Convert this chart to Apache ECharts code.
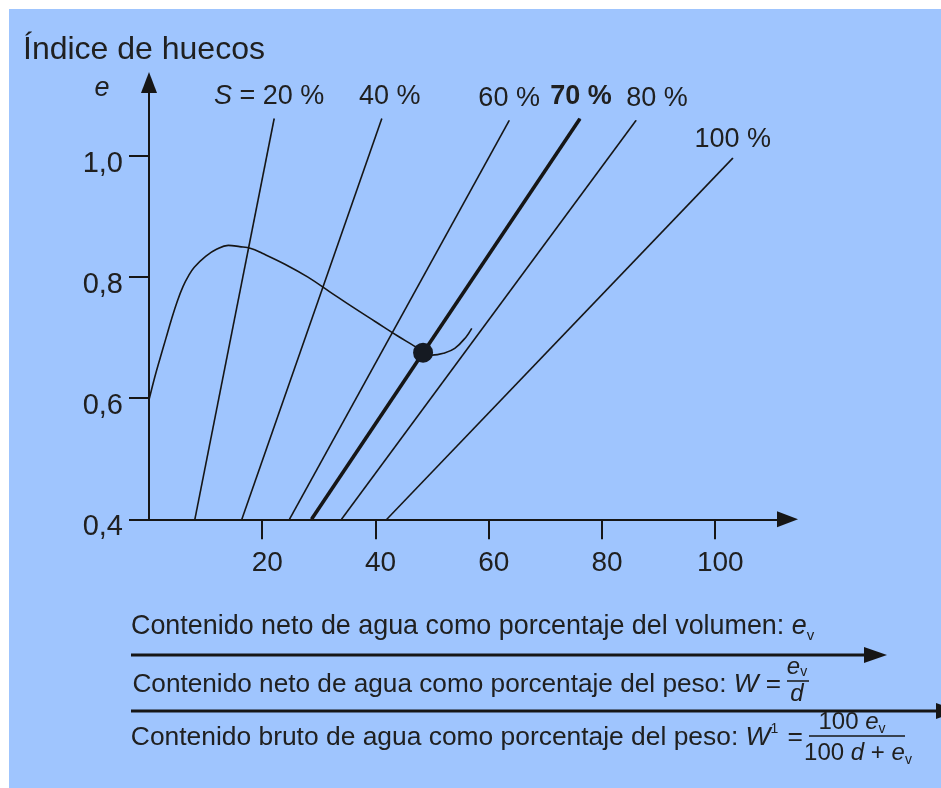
<!DOCTYPE html>
<html>
<head>
<meta charset="utf-8">
<title>Índice de huecos</title>
<script src="https://cdn.jsdelivr.net/npm/echarts@6/dist/echarts.min.js"></script>
<style>html,body{margin:0;padding:0;background:#fff;}</style>
</head>
<body>
<div id="main" style="width:941px;height:788px;"></div>
<script>
var chart = echarts.init(document.getElementById('main'));

// saturation lines S (%): from e = 0.4 up to the top end
var satNames = ['20', '40', '60', '70', '80', '100'];
var satStartW = [8.1, 16.4, 24.8, 28.7, 34.0, 42.0];
var satEndW = [22.1, 41.1, 63.6, 76.1, 86.0, 103.1];
var satEndE = [1.061, 1.061, 1.058, 1.061, 1.058, 0.996];
var satStartE = 0.4;

// curve of the void ratio
var curveW = [0, 1, 2, 3, 4, 5, 6, 7, 8, 10, 12, 14, 16, 18, 20, 24, 28, 32, 36, 40, 44, 47, 48.4, 50, 52, 54, 56, 57];
var curveE = [0.597, 0.634, 0.667, 0.699, 0.731, 0.760, 0.784, 0.802, 0.816, 0.834, 0.846, 0.852, 0.850, 0.847, 0.839, 0.821, 0.800, 0.775, 0.750, 0.726, 0.702, 0.685, 0.675, 0.671, 0.674, 0.682, 0.701, 0.715];

// marked point on the 70 % line
var pointW = [48.4];
var pointE = [0.675];

var xTicks = [20, 40, 60, 80, 100];
var yTicks = [0.4, 0.6, 0.8, 1.0];

var FONT = "'Liberation Sans', Arial, sans-serif";
var INK = '#202020';
var LINE = '#161616';

// label tweaks for the S labels (pixels)
var labelDx = [-5, 8, 0, 1, 21, 0];
var labelDist = [8, 8, 8, 8, 8, 5];

var series = [];
satNames.forEach(function (s, i) {
    var txt;
    if (i === 0) txt = '{it|S} = ' + s + ' %';
    else if (s === '70') txt = '{b|' + s + ' %}';
    else txt = s + ' %';
    series.push({
        type: 'line',
        symbol: 'circle',
        symbolSize: 1,
        showSymbol: true,
        itemStyle: { color: LINE },
        lineStyle: { color: LINE, width: s === '70' ? 3.6 : 1.6 },
        data: [
            [satStartW[i], satStartE],
            {
                value: [satEndW[i], satEndE[i]],
                label: {
                    show: true,
                    position: 'top',
                    distance: labelDist[i],
                    offset: [labelDx[i], 0],
                    formatter: txt,
                    color: INK,
                    fontFamily: FONT,
                    fontSize: 27,
                    rich: {
                        it: { fontStyle: 'italic', fontSize: 27, fontFamily: FONT, color: INK },
                        b: { fontWeight: 'bold', fontSize: 27, fontFamily: FONT, color: INK }
                    }
                }
            }
        ],
        z: s === '70' ? 4 : 3
    });
});

series.push({
    type: 'line',
    smooth: 0.4,
    symbol: 'none',
    lineStyle: { color: LINE, width: 1.6 },
    data: curveW.map(function (w, i) { return [w, curveE[i]]; }),
    z: 3
});

series.push({
    type: 'scatter',
    symbolSize: 20,
    itemStyle: { color: '#151a22', opacity: 1 },
    data: pointW.map(function (w, i) { return [w, pointE[i]]; }),
    z: 5
});

function richFor(size) {
    return {
        n: { fontSize: size, fontFamily: FONT, fill: INK, lineHeight: 32 },
        i: { fontSize: size, fontFamily: FONT, fill: INK, fontStyle: 'italic' },
        s: { fontSize: 15, fontFamily: FONT, fill: INK, verticalAlign: 'bottom' },
        p: { fontSize: 14, fontFamily: FONT, fill: INK, verticalAlign: 'top', padding: [0, 2, 0, 0] },
        fn: { fontSize: 24, fontFamily: FONT, fill: INK, lineHeight: 28 },
        fi: { fontSize: 24, fontFamily: FONT, fill: INK, fontStyle: 'italic' },
        fs: { fontSize: 14, fontFamily: FONT, fill: INK, verticalAlign: 'bottom' }
    };
}

function txt(x, y, text, align, size) {
    return {
        type: 'text', x: x, y: y,
        style: { text: text, rich: richFor(size || 26), align: align || 'left', verticalAlign: 'middle', fill: INK }
    };
}

var option = {
    animation: false,
    backgroundColor: '#ffffff',
    title: {
        text: 'Índice de huecos',
        left: 23,
        top: 34,
        padding: 0,
        textStyle: { fontSize: 32, fontWeight: 'normal', color: INK, fontFamily: FONT }
    },
    grid: { left: 149, right: 153.5, top: 82.5, bottom: 268.7 },
    xAxis: {
        type: 'value',
        min: 0,
        max: 112.76,
        splitLine: { show: false },
        axisLine: {
            show: true, onZero: false,
            symbol: ['none', 'triangle'], symbolSize: [16, 21],
            lineStyle: { color: LINE, width: 2 }
        },
        axisTick: { show: true, length: 20, customValues: xTicks, lineStyle: { color: LINE, width: 2 } },
        axisLabel: {
            customValues: xTicks, margin: 30, padding: [0, 0, 0, 10],
            fontSize: 28, color: INK, fontFamily: FONT
        }
    },
    yAxis: {
        type: 'value',
        min: 0.4,
        max: 1.1208,
        splitLine: { show: false },
        axisLine: {
            show: true, onZero: false,
            symbol: ['none', 'triangle'], symbolSize: [16, 21],
            lineStyle: { color: LINE, width: 2 }
        },
        axisTick: { show: true, length: 20, customValues: yTicks, lineStyle: { color: LINE, width: 2 } },
        axisLabel: {
            customValues: yTicks, margin: 26,
            formatter: function (v) { return '{a|' + v.toFixed(1).replace('.', ',') + '}'; },
            rich: { a: { fontSize: 29, color: INK, fontFamily: FONT, padding: [16, 0, 0, 0] } }
        }
    },
    graphic: [
        { type: 'rect', z: -100, shape: { x: 9, y: 9, width: 932, height: 779 }, style: { fill: '#9fc5fe' } },
        {
            type: 'text', x: 102, y: 88,
            style: { text: 'e', font: 'italic 27px ' + FONT, fill: INK, align: 'center', verticalAlign: 'middle' }
        },
        // line 1
        txt(131, 627, '{n|Contenido neto de agua como porcentaje del volumen: }{i|e}{s|v}', 'left', 26.9),
        { type: 'line', shape: { x1: 131, y1: 655, x2: 866, y2: 655 }, style: { stroke: LINE, lineWidth: 3 } },
        { type: 'polygon', shape: { points: [[864, 647], [887, 655], [864, 663]] }, style: { fill: LINE } },
        // line 2
        txt(781, 685, '{n|Contenido neto de agua como porcentaje del peso: }{i|W}{n| =}', 'right', 26.2),
        txt(797, 667, '{fi|e}{fs|v}', 'center'),
        { type: 'line', shape: { x1: 787, y1: 681, x2: 809, y2: 681 }, style: { stroke: LINE, lineWidth: 1.5 } },
        txt(797, 694, '{fi|d}', 'center'),
        { type: 'line', shape: { x1: 131, y1: 711, x2: 941, y2: 711 }, style: { stroke: LINE, lineWidth: 3 } },
        { type: 'polygon', shape: { points: [[936, 703], [958, 711], [936, 719]] }, style: { fill: LINE } },
        // line 3
        txt(803, 738, '{n|Contenido bruto de agua como porcentaje del peso: }{i|W}{p|1}{n| =}', 'right', 26.4),
        txt(852, 722, '{fn|100 }{fi|e}{fs|v}', 'center'),
        { type: 'line', shape: { x1: 809, y1: 736, x2: 905, y2: 736 }, style: { stroke: LINE, lineWidth: 1.5 } },
        txt(858, 753, '{fn|100 }{fi|d}{fn| + }{fi|e}{fs|v}', 'center')
    ],
    series: series
};

chart.setOption(option);
</script>
</body>
</html>
